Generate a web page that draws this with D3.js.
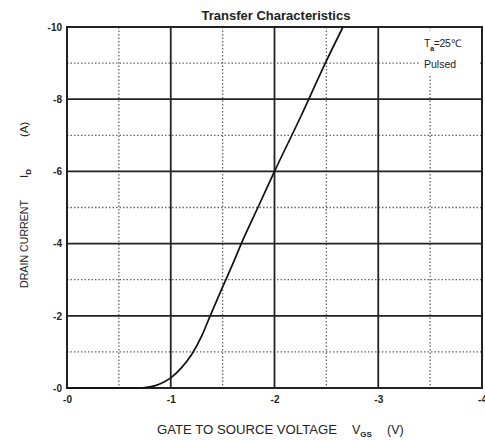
<!DOCTYPE html>
<html>
<head>
<meta charset="utf-8">
<script src="https://cdn.jsdelivr.net/npm/d3@7/dist/d3.min.js"></script>
<style>
  html, body { margin: 0; padding: 0; background: #fff; }
  svg { display: block; }
  text { font-family: "Liberation Sans", Arial, sans-serif; fill: #222; }
</style>
</head>
<body>
<svg id="chart" width="485" height="441"></svg>
<script>
// Gate-source voltage (V) and drain current (A) along the transfer curve
const vgs = [0, -0.5, -0.7, -0.8, -0.9, -1.0, -1.1, -1.2, -1.3, -1.38, -1.5, -1.6, -1.68, -1.84, -2.0, -2.25, -2.49, -2.66];
const id  = [0, 0, 0, -0.03, -0.12, -0.28, -0.55, -0.92, -1.45, -2.0, -2.8, -3.45, -4.0, -5.0, -6.0, -7.5, -9.0, -10.0];

const xTicks = [0, -1, -2, -3, -4];
const xTickLabels = ["-0", "-1", "-2", "-3", "-4"];
const xMinor = [-0.5, -1.5, -2.5, -3.5];
const yTicks = [0, -2, -4, -6, -8, -10];
const yTickLabels = ["-0", "-2", "-4", "-6", "-8", "-10"];
const yMinor = [-1, -3, -5, -7, -9];

const svg = d3.select("#chart");
const plotLeft = 67, plotRight = 482, plotTop = 27, plotBottom = 388;

const x = d3.scaleLinear().domain([0, -4]).range([plotLeft, plotRight]);
const y = d3.scaleLinear().domain([0, -10]).range([plotBottom, plotTop]);

// dotted half-step grid
const g = svg.append("g");
g.selectAll("line.vminor").data(xMinor).join("line")
  .attr("x1", d => x(d)).attr("x2", d => x(d))
  .attr("y1", plotTop).attr("y2", plotBottom)
  .attr("stroke", "#666").attr("stroke-width", 1.3).attr("stroke-dasharray", "1.5,2");
g.selectAll("line.hminor").data(yMinor).join("line")
  .attr("y1", d => y(d)).attr("y2", d => y(d))
  .attr("x1", plotLeft).attr("x2", plotRight)
  .attr("stroke", "#666").attr("stroke-width", 1.3).attr("stroke-dasharray", "1.5,2");

// solid major grid
g.selectAll("line.vmajor").data(xTicks.slice(1, -1)).join("line")
  .attr("x1", d => x(d)).attr("x2", d => x(d))
  .attr("y1", plotTop).attr("y2", plotBottom)
  .attr("stroke", "#222").attr("stroke-width", 1.8);
g.selectAll("line.hmajor").data(yTicks.slice(1, -1)).join("line")
  .attr("y1", d => y(d)).attr("y2", d => y(d))
  .attr("x1", plotLeft).attr("x2", plotRight)
  .attr("stroke", "#222").attr("stroke-width", 1.8);

// condition note with a white backing
svg.append("rect").attr("x", 420).attr("y", 31).attr("width", 60).attr("height", 44).attr("fill", "#fff");
const note = svg.append("text").attr("x", 424).attr("y", 47).attr("font-size", 10.5).attr("letter-spacing", -0.3);
note.append("tspan").text("T");
note.append("tspan").attr("font-size", 7).attr("font-weight", "bold").attr("dy", 4).text("a");
note.append("tspan").attr("dy", -4).text("=25℃");
svg.append("text").attr("x", 424).attr("y", 68).attr("font-size", 10.5).text("Pulsed");

// frame
svg.append("rect").attr("x", plotLeft).attr("y", plotTop)
  .attr("width", plotRight - plotLeft).attr("height", plotBottom - plotTop)
  .attr("fill", "none").attr("stroke", "#222").attr("stroke-width", 2);

// tick labels through d3 axes (domain line removed)
const xAxis = svg.append("g").attr("transform", `translate(0,${plotBottom})`)
  .call(d3.axisBottom(x).tickValues(xTicks).tickSize(0).tickPadding(8)
    .tickFormat((d, i) => xTickLabels[i]));
xAxis.select(".domain").remove();
xAxis.selectAll("text").attr("font-size", 10).attr("font-weight", "bold")
  .attr("font-family", "Liberation Sans, Arial, sans-serif").attr("fill", "#333");

const yAxis = svg.append("g").attr("transform", `translate(${plotLeft},0)`)
  .call(d3.axisLeft(y).tickValues(yTicks).tickSize(0).tickPadding(5)
    .tickFormat((d, i) => yTickLabels[i]));
yAxis.select(".domain").remove();
yAxis.selectAll("text").attr("font-size", 10).attr("font-weight", "bold")
  .attr("font-family", "Liberation Sans, Arial, sans-serif").attr("fill", "#333");

// transfer curve
const pts = vgs.map((v, i) => [v, id[i]]);
svg.append("path").datum(pts)
  .attr("fill", "none").attr("stroke", "#111").attr("stroke-width", 1.7)
  .attr("d", d3.line().x(d => x(d[0])).y(d => y(d[1])).curve(d3.curveMonotoneX));

// title
svg.append("text").attr("x", 276).attr("y", 20).attr("text-anchor", "middle")
  .attr("font-size", 13).attr("font-weight", "bold").text("Transfer Characteristics");

// x-axis title
const xt = svg.append("text").attr("x", 157).attr("y", 434).attr("font-size", 12.5);
xt.append("tspan").attr("textLength", 180).attr("lengthAdjust", "spacingAndGlyphs").text("GATE TO SOURCE VOLTAGE");
xt.append("tspan").attr("x", 352).text("V");
xt.append("tspan").attr("font-size", 8).attr("font-weight", "bold").attr("dy", 3).text("GS");
xt.append("tspan").attr("x", 387).attr("dy", -3).text("(V)");

// y-axis title
const yt = svg.append("text").attr("transform", "translate(28,288) rotate(-90)").attr("font-size", 11.5);
yt.append("tspan").attr("textLength", 88).attr("lengthAdjust", "spacingAndGlyphs").text("DRAIN CURRENT");
yt.append("tspan").attr("x", 110).text("I");
yt.append("tspan").attr("font-size", 8).attr("font-weight", "bold").attr("dy", 3).text("D");
yt.append("tspan").attr("x", 151).attr("dy", -3).text("(A)");
</script>
</body>
</html>
